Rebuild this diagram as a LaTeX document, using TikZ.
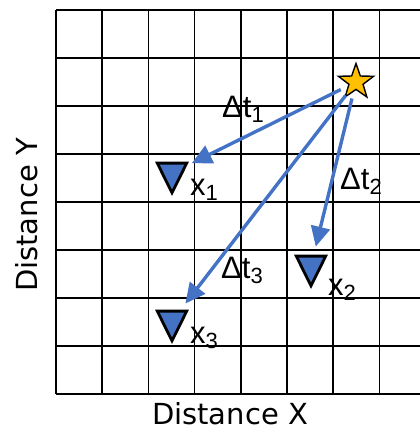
\documentclass[tikz,border=0pt]{standalone}
\usepackage{fontspec}
\setmainfont{Liberation Sans}
\newfontfamily\axisfont{DejaVu Sans}
\usetikzlibrary{shapes,arrows.meta}

\definecolor{quakeblue}{HTML}{4472C4}
\definecolor{stargold}{HTML}{FFC000}
\newcommand{\lowidx}[1]{\raisebox{-5pt}{\fontsize{22}{22}\selectfont #1}}

\begin{document}
\begin{tikzpicture}[
    x=1pt, y=-1pt,
    gridline/.style={line width=1.5pt, black},
    station/.style={regular polygon, regular polygon sides=3, shape border rotate=180, draw, line width=2.8pt, fill=quakeblue, minimum size=34pt, inner sep=0pt, yscale=1.16, transform shape},
    source/.style={star, star points=5, star point ratio=2.5, draw, line width=1.4pt, fill=stargold, minimum size=37pt, inner sep=0pt},
    tag/.style={font=\fontsize{31}{31}\selectfont, inner sep=0pt, anchor=base west},
    axis/.style={font=\axisfont\fontsize{29}{29}\selectfont, inner sep=0pt},
    arrow/.style={->, >={Triangle[length=20pt, width=19pt]}, line width=3.4pt, draw=quakeblue, shorten <=17pt, shorten >=22pt}
]
\useasboundingbox (0,0) rectangle (420,431);

% Grid
\foreach \i in {0,...,7} \draw[gridline] (56+46.2*\i,10) -- (56+46.2*\i,394);
\foreach \j in {0,...,8} \draw[gridline] (56,10+48*\j) -- (420,10+48*\j);

% Source
\node[source] (src) at (356,82) {};

% Stations
\node[station] (st1) at (172,173) {};
\node[station] (st2) at (311,266) {};
\node[station] (st3) at (172,321) {};

% Station labels
\node[tag] (x1) at (190,195) {x\lowidx{1}};
\node[tag] (x2) at (328,295) {x\lowidx{2}};
\node[tag] (x3) at (190,343) {x\lowidx{3}};

% Travel times
\node[tag] (dt1) at (222,117) {Δt\lowidx{1}};
\node[tag] (dt2) at (340,189) {Δt\lowidx{2}};
\node[tag] (dt3) at (221,278) {Δt\lowidx{3}};

% Arrows
\draw[arrow] (src.center) -- (st1.center);
\draw[arrow, shorten >=20pt] (src.center) -- (st2.center);
\draw[arrow] (src.center) -- (st3.center);

% Axes
\node[axis] (xlab) at (230,414) {Distance X};
\node[axis, rotate=90] (ylab) at (27,215) {Distance Y};

\end{tikzpicture}
\end{document}
